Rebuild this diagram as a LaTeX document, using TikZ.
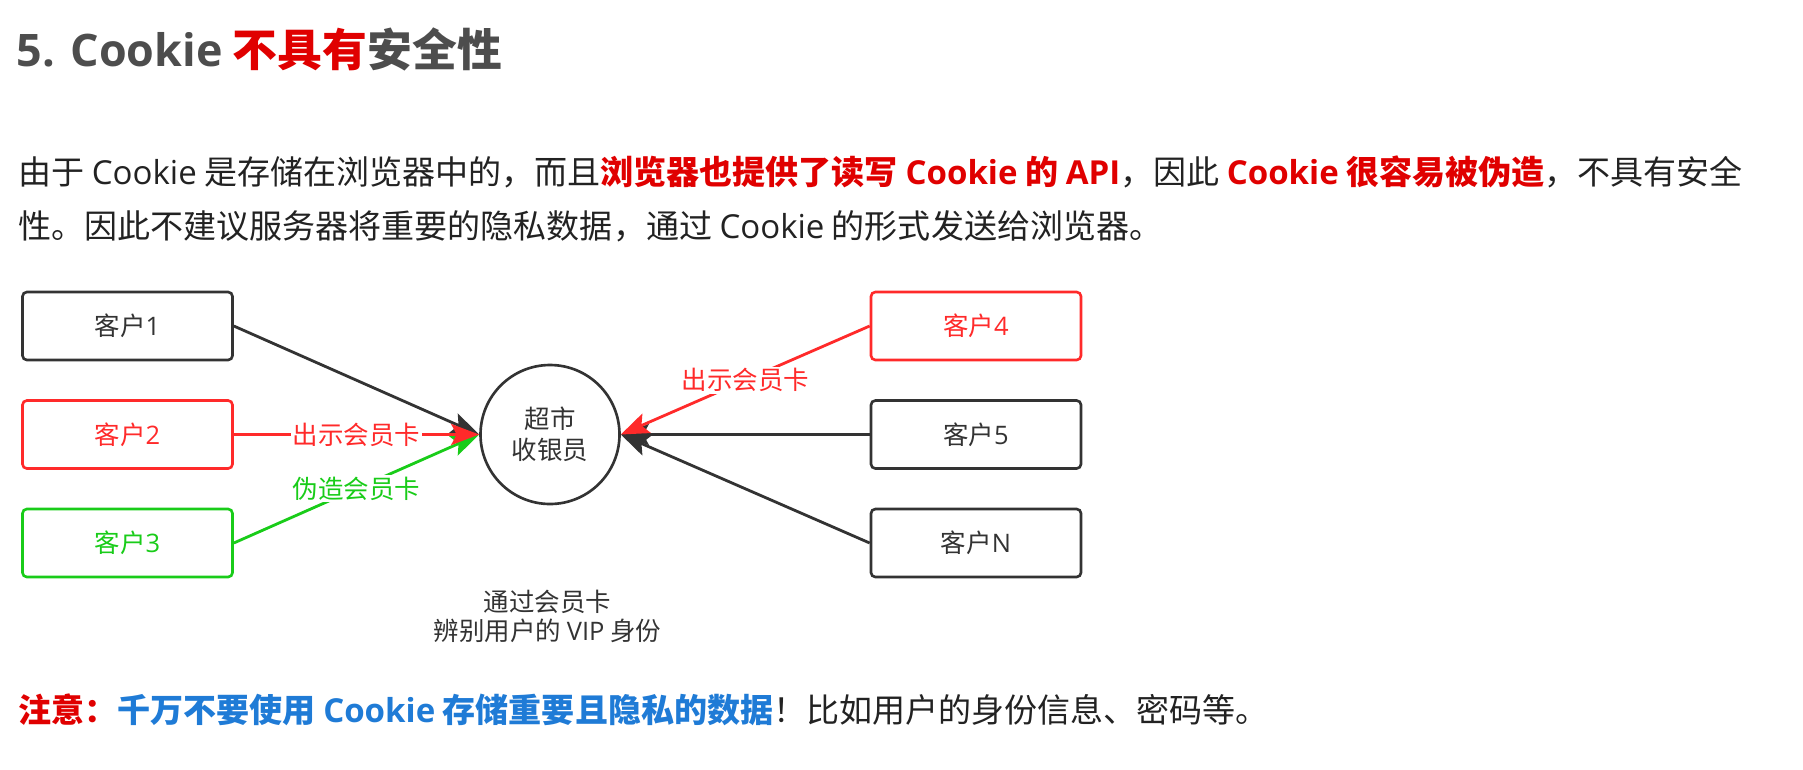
\documentclass[tikz,border=0pt]{standalone}
\usepackage{fontspec}
\setmainfont{Noto Sans CJK SC}
\newfontfamily\enfont{Open Sans}
\usetikzlibrary{arrows.meta,positioning}
\definecolor{ckink}{HTML}{222222}
\definecolor{ckgray}{HTML}{4D4D4D}
\definecolor{ckred}{HTML}{E00000}
\definecolor{ckblue}{HTML}{1F7BD6}
\definecolor{ckline}{HTML}{333333}
\definecolor{ckrose}{HTML}{FF2A2A}
\definecolor{ckgreen}{HTML}{19CC19}
\newcommand{\en}[1]{{\enfont #1}}
\newcommand{\bodysize}{\fontsize{18.8pt}{22pt}\selectfont}
\newcommand{\drawsize}{\fontsize{14.5pt}{17.5pt}\selectfont}
\tikzset{
  client/.style={rectangle,rounded corners=2.5pt,draw=ckline,line width=1.5pt,
                 fill=white,minimum width=4.2cm,minimum height=1.36cm,
                 font=\drawsize,text=ckline},
  clerk/.style={circle,draw=ckline,line width=1.5pt,minimum size=2.78cm,
                align=center,font=\drawsize,text=ckline},
  handin/.style={-{Stealth[length=5.6mm,width=4.2mm,inset=1.1mm]},line width=1.6pt},
  cardlabel/.style={fill=white,inner sep=1pt,font=\drawsize},
  para/.style={anchor=west,inner sep=0pt,font=\bodysize,text=ckink},
}

\begin{document}
\begin{tikzpicture}
  \useasboundingbox (0,0) rectangle (36.06,-15.38);
  \node[anchor=west,inner sep=0pt,text=ckgray,font=\fontsize{25.5pt}{29pt}\selectfont\bfseries] (title) at (0.33,-0.98) {\en{5. Cookie} {\color{ckred}不具有}安全性};
  \node[para] (line1) at (0.36,-3.44) {由于 \en{Cookie} 是存储在浏览器中的，而且{\bfseries\color{ckred}浏览器也提供了读写 \en{Cookie} 的 \en{API}}，因此 {\bfseries\color{ckred}\en{Cookie} 很容易被伪造}，不具有安全};
  \node[para] (line2) at (0.36,-4.52) {性。因此不建议服务器将重要的隐私数据，通过 \en{Cookie} 的形式发送给浏览器。};
  % clients and clerk
  \node[client] (c1) at (2.55,-6.52) {客户\en{1}};
  \node[client,draw=ckrose,text=ckrose] (c2) at (2.55,-8.69) {客户\en{2}};
  \node[client,draw=ckgreen,text=ckgreen] (c3) at (2.55,-10.86) {客户\en{3}};
  \node[clerk] (desk) at (11.0,-8.69) {超市\\收银员};
  \node[client,draw=ckrose,text=ckrose] (c4) at (19.52,-6.52) {客户\en{4}};
  \node[client] (c5) at (19.52,-8.69) {客户\en{5}};
  \node[client] (cn) at (19.52,-10.86) {客户\en{N}};
  \draw[handin,ckline] (c1.east) -- (desk.west);
  \draw[handin,ckgreen] (c3.east) -- node[cardlabel]{伪造会员卡} (desk.west);
  \draw[handin,ckrose] (c2.east) -- node[cardlabel]{出示会员卡} (desk.west);
  \draw[handin,ckline] (c5.west) -- (desk.east);
  \draw[handin,ckline] (cn.west) -- (desk.east);
  \draw[handin,ckrose] (c4.west) -- node[cardlabel]{出示会员卡} (desk.east);
  \node[align=center,font=\fontsize{14.5pt}{16.5pt}\selectfont,text=ckline] (how) at (10.95,-12.32) {通过会员卡\\辨别用户的 \en{VIP} 身份};
  \node[para] (warn) at (0.36,-14.19) {{\bfseries\color{ckred}注意：}{\bfseries\color{ckblue}千万不要使用 \en{Cookie} 存储重要且隐私的数据}！比如用户的身份信息、密码等。};
\end{tikzpicture}
\end{document}
